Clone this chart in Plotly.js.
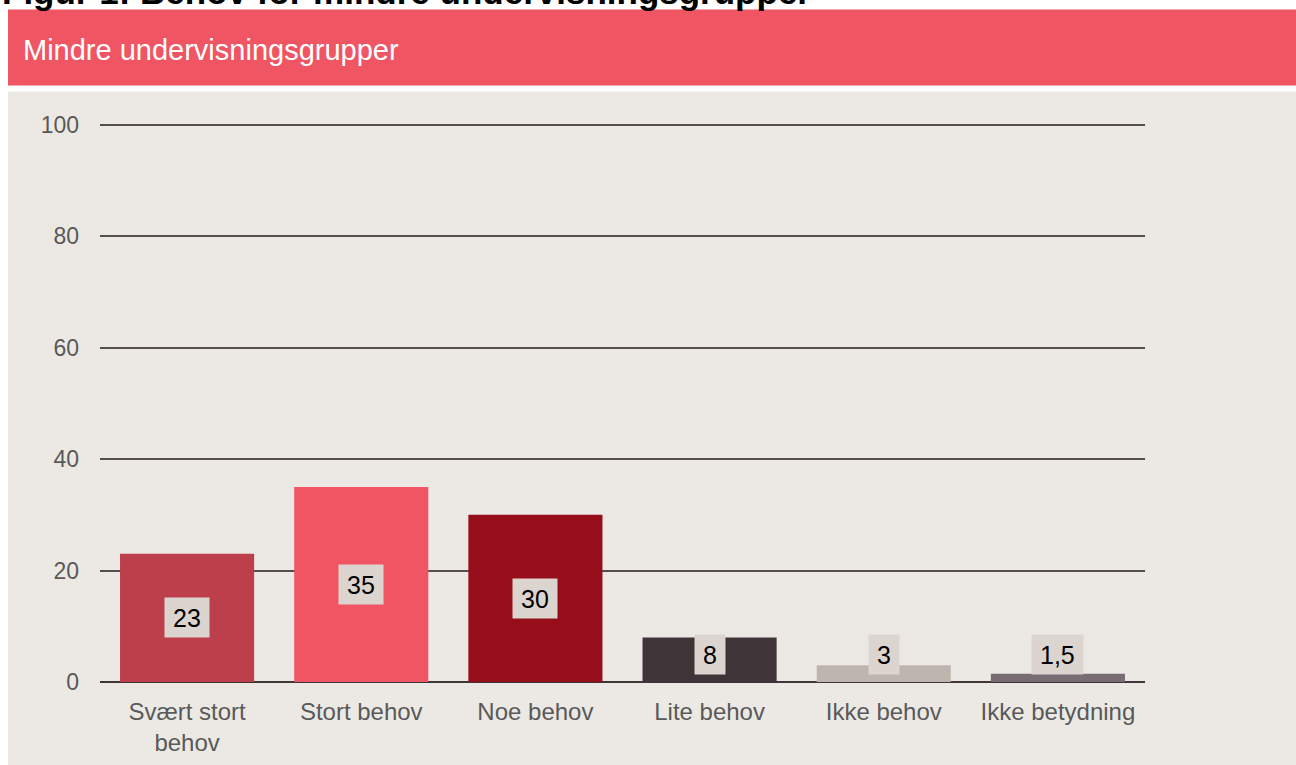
<!DOCTYPE html>
<html>
<head>
<meta charset="utf-8">
<script src="https://cdn.plot.ly/plotly-3.0.1.min.js"></script>
<style>html,body{margin:0;padding:0;background:#fff;}#chart{width:1296px;height:765px;}</style>
</head>
<body>
<div id="chart"></div>
<script>
// ---- data ----
const categories = ["Svært stort<br>behov", "Stort behov", "Noe behov", "Lite behov", "Ikke behov", "Ikke betydning"];
const values = [23, 35, 30, 8, 3, 1.5];
const valueLabels = ["23", "35", "30", "8", "3", "1,5"];
const barColors = ["#bc3f4b", "#f05563", "#960e19", "#3f3438", "#bfb5af", "#776d72"];
const yTicks = [0, 20, 40, 60, 80, 100];
const figureTitle = "Figur 1: Behov for mindre undervisningsgrupper";
const panelTitle = "Mindre undervisningsgrupper";

// ---- layout geometry ----
const W = 1296, H = 765;
const yMax = 101;
const L = 100, R = 1145, B = 682;
const pxPerUnit = (682 - 125) / 100;
const T = B - yMax * pxPerUnit;
const px2x = p => (p - L) / (R - L);
const px2y = p => (B - p) / (B - T);
const FONT = "Liberation Sans, Arial, sans-serif";
const minLabelY = 4.85;

const annotations = [
  {xref: "paper", yref: "paper", x: px2x(0), y: px2y(14), xanchor: "left", yanchor: "bottom",
   text: "<b>" + figureTitle + "</b>", showarrow: false,
   font: {family: FONT, size: 35, color: "#000"}},
  {xref: "paper", yref: "paper", x: px2x(21), y: px2y(50), xanchor: "left", yanchor: "middle",
   text: panelTitle, showarrow: false,
   font: {family: FONT, size: 29, color: "#ffffff"}}
];
values.forEach((v, i) => {
  const lab = valueLabels[i];
  const digits = (lab.match(/[0-9]/g) || []).length;
  const commas = (lab.match(/,/g) || []).length;
  annotations.push({
    x: categories[i], y: Math.max(v / 2, minLabelY), xref: "x", yref: "y",
    text: lab, showarrow: false, bgcolor: "#dcd5cf", borderpad: 5,
    width: 13.9 * digits + 7 * commas + 6, height: 29,
    font: {family: FONT, size: 25, color: "#000"}
  });
});

const shapes = [
  {type: "rect", xref: "paper", yref: "paper", layer: "below",
   x0: px2x(8), x1: px2x(1300), y0: px2y(10), y1: px2y(86),
   fillcolor: "#f05563", line: {width: 0}},
  {type: "rect", xref: "paper", yref: "paper", layer: "below",
   x0: px2x(8), x1: px2x(1300), y0: px2y(92), y1: px2y(770),
   fillcolor: "#ece9e4", line: {width: 0}}
];

const trace = {
  type: "bar", x: categories, y: values,
  marker: {color: barColors, line: {width: 0}},
  hoverinfo: "skip", showlegend: false
};

const layout = {
  width: W, height: H,
  margin: {l: L, r: W - R, t: T, b: H - B, pad: 0},
  paper_bgcolor: "#ffffff", plot_bgcolor: "rgba(0,0,0,0)",
  bargap: 0.23,
  font: {family: FONT, color: "#595959"},
  xaxis: {
    type: "category", range: [-0.5, 5.5], showgrid: false, zeroline: false,
    showline: false, ticks: "", tickfont: {family: FONT, size: 24, color: "#595959"},
    ticklabelstandoff: 13, fixedrange: true
  },
  yaxis: {
    range: [0, yMax], tickvals: yTicks, ticktext: yTicks.map(String),
    showgrid: true, gridcolor: "#554e51", gridwidth: 2,
    zeroline: true, zerolinecolor: "#3f3438", zerolinewidth: 2.5,
    showline: false, ticks: "", ticklabelstandoff: 20,
    tickfont: {family: FONT, size: 23, color: "#595959"}, fixedrange: true
  },
  shapes: shapes,
  annotations: annotations
};

Plotly.newPlot("chart", [trace], layout, {displayModeBar: false, staticPlot: true});
</script>
</body>
</html>
